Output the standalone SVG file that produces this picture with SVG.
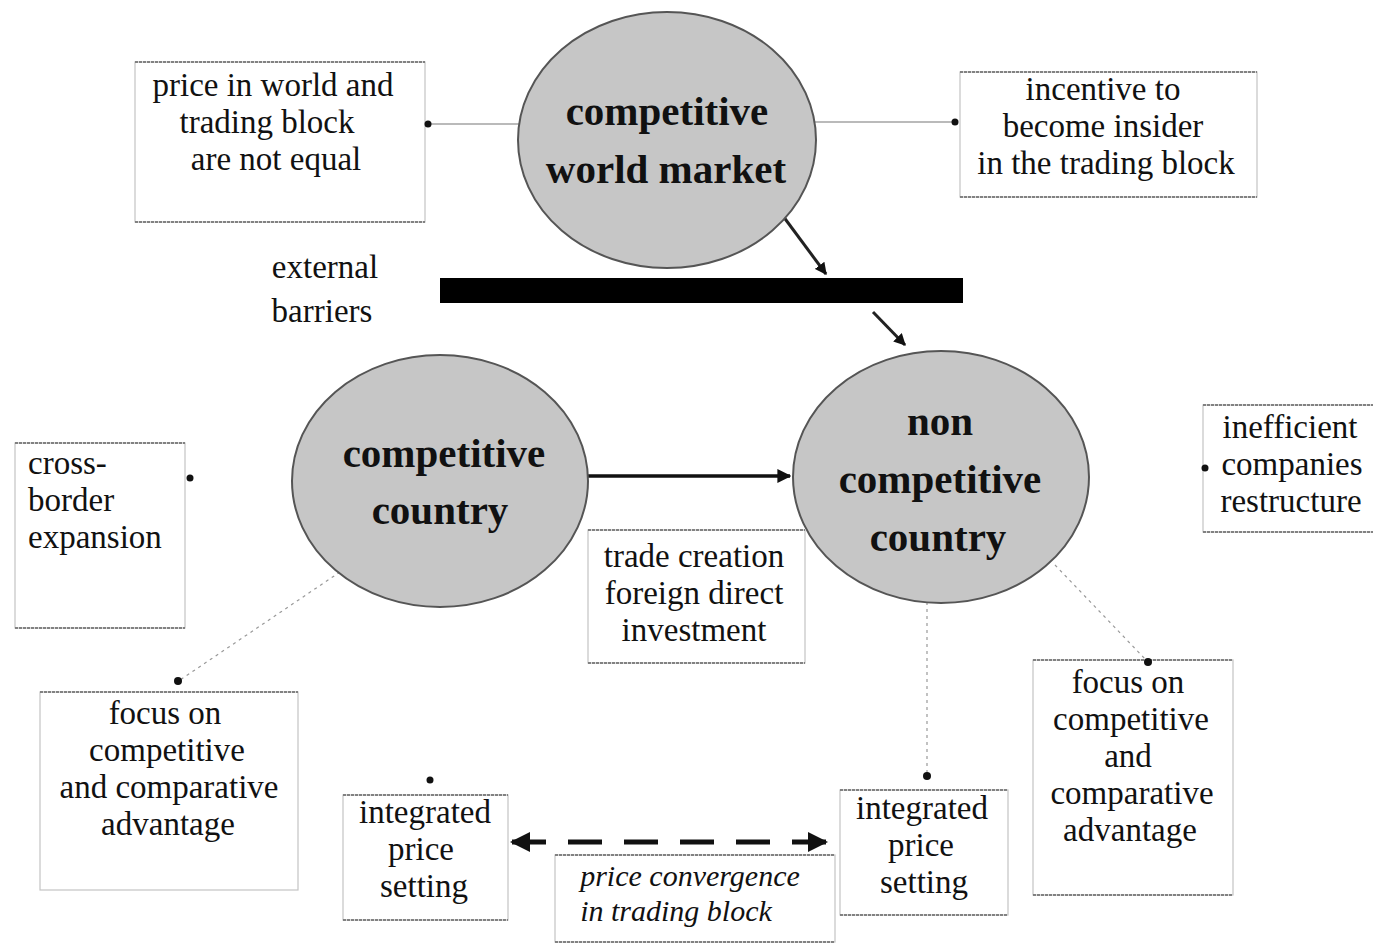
<svg xmlns="http://www.w3.org/2000/svg" width="1373" height="947" viewBox="0 0 1373 947">
<defs>
<marker id="ah2" viewBox="0 0 10 10" refX="9" refY="5" markerWidth="4" markerHeight="4" orient="auto-start-reverse" markerUnits="strokeWidth">
<path d="M0,0 L10,5 L0,10 z" fill="#111"/>
</marker>
</defs>
<style>
.box{fill:#fff;stroke:#c4c4c4;stroke-width:1.2}
.edge{stroke:#666;stroke-width:1.4;fill:none;stroke-dasharray:3 1}
.ell{fill:#c6c6c6;stroke:#555;stroke-width:2}
.t{font-family:"Liberation Serif","Times New Roman",serif;font-size:33px;fill:#111;text-anchor:middle}
.tl{text-anchor:start}
.it{font-style:italic;font-size:30px}
.big{font-family:"Liberation Serif","Times New Roman",serif;font-size:41px;font-weight:bold;fill:#111;text-anchor:middle}
.dot{fill:#111}
.thin{stroke:#777;stroke-width:1.2;fill:none}
.dotted{stroke:#999;stroke-width:1.2;fill:none;stroke-dasharray:3 4}
</style>
<rect width="1373" height="947" fill="#fff"/>

<g id="connectors">
<line class="thin" x1="428" y1="124" x2="519" y2="124"/>
<line class="thin" x1="815" y1="122" x2="953" y2="122"/>
<line x1="783" y1="216" x2="826" y2="274" stroke="#222" stroke-width="3" marker-end="url(#ah2)"/>
<line x1="873" y1="312" x2="905" y2="345" stroke="#222" stroke-width="3" marker-end="url(#ah2)"/>
<line x1="588" y1="476" x2="790" y2="476" stroke="#111" stroke-width="3.5" marker-end="url(#ah2)"/>
<line class="dotted" x1="340" y1="572" x2="180" y2="680"/>
<line class="dotted" x1="927" y1="602" x2="927" y2="775"/>
<line class="dotted" x1="1055" y1="565" x2="1147" y2="661"/>
<line x1="512" y1="842" x2="826" y2="842" stroke="#111" stroke-width="5" stroke-dasharray="34 22" marker-start="url(#ah2)" marker-end="url(#ah2)"/>
</g>

<g id="barrier">
<rect x="440" y="278" width="523" height="25" fill="#000"/>
</g>
<g id="external-barriers">
<text class="t" x="325" y="278">external</text>
<text class="t" x="322" y="322">barriers</text>
</g>

<g id="world-market">
<ellipse class="ell" cx="667" cy="140" rx="149" ry="128"/>
<text class="big" x="667" y="125">competitive</text>
<text class="big" x="666" y="183">world market</text>
</g>

<g id="price-not-equal">
<rect class="box" x="135" y="62" width="290" height="160"/>
<line class="edge" x1="135" y1="62" x2="425" y2="62"/>
<line class="edge" x1="135" y1="222" x2="425" y2="222"/>
<text class="t" x="273" y="96">price in world and</text>
<text class="t" x="267" y="133">trading block</text>
<text class="t" x="276" y="170">are not equal</text>
<circle class="dot" cx="428" cy="124" r="3.5"/>
</g>

<g id="incentive">
<rect class="box" x="960" y="72" width="297" height="125"/>
<line class="edge" x1="960" y1="72" x2="1257" y2="72"/>
<line class="edge" x1="960" y1="197" x2="1257" y2="197"/>
<text class="t" x="1103" y="100">incentive to</text>
<text class="t" x="1103" y="137">become insider</text>
<text class="t" x="1106" y="174">in the trading block</text>
<circle class="dot" cx="955" cy="122" r="3.5"/>
</g>

<g id="competitive-country">
<ellipse class="ell" cx="440" cy="481" rx="148" ry="126"/>
<text class="big" x="444" y="467">competitive</text>
<text class="big" x="440" y="524">country</text>
</g>

<g id="non-competitive-country">
<ellipse class="ell" cx="941" cy="477" rx="148" ry="126"/>
<text class="big" x="940" y="435">non</text>
<text class="big" x="940" y="493">competitive</text>
<text class="big" x="938" y="551">country</text>
</g>

<g id="trade-creation">
<rect class="box" x="588" y="530" width="217" height="133"/>
<line class="edge" x1="588" y1="530" x2="805" y2="530"/>
<line class="edge" x1="588" y1="663" x2="805" y2="663"/>
<text class="t" x="694" y="567">trade creation</text>
<text class="t" x="694" y="604">foreign direct</text>
<text class="t" x="694" y="641">investment</text>
</g>

<g id="cross-border">
<rect class="box" x="15" y="443" width="170" height="185"/>
<line class="edge" x1="15" y1="443" x2="185" y2="443"/>
<line class="edge" x1="15" y1="628" x2="185" y2="628"/>
<text class="t tl" x="28" y="474">cross-</text>
<text class="t tl" x="28" y="511">border</text>
<text class="t tl" x="28" y="548">expansion</text>
<circle class="dot" cx="190" cy="478" r="3.5"/>
</g>

<g id="inefficient">
<rect class="box" x="1203" y="405" width="175" height="127"/>
<line class="edge" x1="1203" y1="405" x2="1373" y2="405"/>
<line class="edge" x1="1203" y1="532" x2="1373" y2="532"/>
<text class="t" x="1290" y="438">inefficient</text>
<text class="t" x="1292" y="475">companies</text>
<text class="t" x="1291" y="512">restructure</text>
<circle class="dot" cx="1205" cy="468" r="3.5"/>
</g>

<g id="focus-left">
<rect class="box" x="40" y="692" width="258" height="198"/>
<line class="edge" x1="40" y1="692" x2="298" y2="692"/>
<text class="t" x="165" y="724">focus on</text>
<text class="t" x="167" y="761">competitive</text>
<text class="t" x="169" y="798">and comparative</text>
<text class="t" x="168" y="835">advantage</text>
<circle class="dot" cx="178" cy="681" r="4"/>
</g>

<g id="integrated-left">
<rect class="box" x="343" y="795" width="165" height="125"/>
<line class="edge" x1="343" y1="795" x2="508" y2="795"/>
<line class="edge" x1="343" y1="920" x2="508" y2="920"/>
<text class="t" x="425" y="823">integrated</text>
<text class="t" x="421" y="860">price</text>
<text class="t" x="424" y="897">setting</text>
<circle class="dot" cx="430" cy="780" r="3.5"/>
</g>

<g id="price-convergence">
<rect class="box" x="555" y="855" width="280" height="87"/>
<line class="edge" x1="555" y1="855" x2="835" y2="855"/>
<line class="edge" x1="555" y1="942" x2="835" y2="942"/>
<text class="t it" x="690" y="886">price convergence</text>
<text class="t it" x="676" y="921">in trading block</text>
</g>

<g id="integrated-right">
<rect class="box" x="840" y="790" width="168" height="125"/>
<line class="edge" x1="840" y1="790" x2="1008" y2="790"/>
<line class="edge" x1="840" y1="915" x2="1008" y2="915"/>
<text class="t" x="922" y="819">integrated</text>
<text class="t" x="921" y="856">price</text>
<text class="t" x="924" y="893">setting</text>
<circle class="dot" cx="927" cy="776" r="4"/>
</g>

<g id="focus-right">
<rect class="box" x="1033" y="660" width="200" height="235"/>
<line class="edge" x1="1033" y1="660" x2="1233" y2="660"/>
<line class="edge" x1="1033" y1="895" x2="1233" y2="895"/>
<text class="t" x="1128" y="693">focus on</text>
<text class="t" x="1131" y="730">competitive</text>
<text class="t" x="1128" y="767">and</text>
<text class="t" x="1132" y="804">comparative</text>
<text class="t" x="1130" y="841">advantage</text>
<circle class="dot" cx="1148" cy="662" r="4"/>
</g>
</svg>
